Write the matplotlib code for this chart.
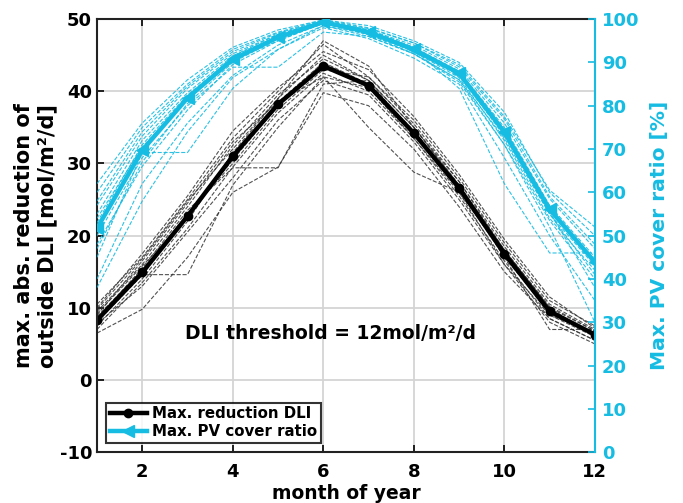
import numpy as np
import matplotlib
matplotlib.use("Agg")
import matplotlib.pyplot as plt

# month axis
months = np.arange(1, 13)

# mean curves
dli_mean = [8.3, 14.9, 22.7, 31.0, 38.2, 43.5, 40.8, 34.2, 26.6, 17.5, 9.5, 6.3]
pv_mean = [51.7, 69.7, 81.8, 90.7, 95.8, 99.3, 97.0, 93.0, 87.5, 73.9, 56.1, 43.9]

# individual years - max. reduction DLI [mol/m2/d]
dli_b1 = [9.5, 16.0, 24.0, 32.5, 39.5, 44.5, 41.5, 35.0, 27.5, 18.5, 10.5, 7.0]
dli_b2 = [7.0, 13.5, 21.0, 29.5, 37.0, 42.5, 40.0, 33.5, 25.5, 16.5, 8.5, 5.5]
dli_b3 = [10.5, 17.0, 25.0, 33.5, 40.0, 46.5, 42.0, 36.0, 28.0, 19.0, 11.0, 7.5]
dli_b4 = [6.5, 9.8, 17.0, 26.0, 29.5, 39.8, 38.0, 32.0, 24.0, 15.0, 8.5, 5.5]
dli_b5 = [8.0, 14.6, 14.6, 27.0, 35.0, 42.0, 40.5, 33.5, 26.0, 17.5, 9.0, 6.5]
dli_b6 = [8.5, 15.5, 23.5, 29.4, 29.4, 41.0, 41.5, 35.0, 27.0, 17.0, 7.0, 7.0]
dli_b7 = [9.0, 16.5, 24.5, 33.0, 38.5, 44.0, 41.0, 34.5, 27.0, 18.0, 10.0, 6.0]
dli_b8 = [7.5, 14.0, 22.0, 31.5, 39.0, 45.0, 41.5, 34.0, 26.5, 17.0, 9.5, 6.5]
dli_b9 = [8.8, 15.2, 23.0, 30.0, 37.5, 43.0, 42.0, 35.5, 27.5, 18.0, 10.0, 6.8]
dli_b10 = [9.2, 15.8, 22.5, 31.0, 38.5, 42.0, 35.0, 28.8, 26.0, 16.0, 9.0, 6.0]
dli_b11 = [7.8, 13.0, 20.5, 28.0, 36.0, 41.5, 39.5, 33.0, 25.0, 16.0, 8.0, 5.0]
dli_b12 = [10.0, 17.5, 25.5, 34.5, 40.5, 45.5, 43.0, 36.5, 28.5, 19.5, 11.5, 7.2]
dli_b13 = [8.2, 14.5, 22.8, 30.5, 38.0, 44.0, 40.5, 34.0, 26.8, 17.8, 9.8, 6.2]
dli_b14 = [9.8, 16.8, 24.8, 32.0, 39.0, 47.0, 43.5, 35.0, 27.0, 18.0, 10.2, 6.8]

# individual years - max. PV cover ratio [%]
pv_c1 = [55, 72, 83, 91.5, 96.5, 99.5, 97.5, 93.5, 88.0, 75.0, 57.0, 45.0]
pv_c2 = [48, 66, 79, 89.5, 95.0, 99.0, 96.5, 92.5, 86.5, 72.0, 54.0, 42.0]
pv_c3 = [60, 75, 85, 93.0, 97.0, 99.8, 98.0, 94.5, 89.0, 77.0, 59.0, 48.0]
pv_c4 = [45, 69.2, 69.2, 84.0, 93.0, 98.5, 96.0, 92.0, 86.0, 72.5, 55.0, 41.0]
pv_c5 = [50, 68, 80, 88.9, 88.9, 97.0, 96.0, 92.0, 85.5, 71.0, 53.5, 40.0]
pv_c6 = [53, 71, 82.5, 91.0, 96.0, 99.5, 97.0, 93.0, 84.0, 62.0, 46.0, 46.0]
pv_c7 = [40, 62, 76, 87.0, 94.0, 98.5, 96.5, 92.0, 86.0, 71.0, 52.0, 30.0]
pv_c8 = [57, 73, 84, 92.0, 96.5, 99.5, 97.5, 94.0, 88.5, 76.0, 58.5, 47.0]
pv_c9 = [62, 76, 86, 93.5, 97.5, 99.8, 98.5, 95.0, 90.0, 78.5, 60.0, 50.0]
pv_c10 = [47, 67, 80.5, 90.0, 95.5, 99.0, 96.5, 93.5, 87.0, 73.0, 55.5, 38.0]
pv_c11 = [52, 70, 82, 90.5, 95.0, 99.2, 97.2, 93.2, 87.8, 74.5, 56.5, 44.0]
pv_c12 = [38, 58, 74, 86.5, 93.0, 98.0, 95.5, 91.0, 85.0, 68.0, 50.0, 35.0]
pv_c13 = [58, 74, 84.5, 92.5, 96.8, 99.6, 97.8, 94.5, 89.5, 77.5, 60.5, 52.0]
pv_c14 = [54, 70.5, 81.5, 91.5, 96.0, 99.3, 97.0, 92.5, 87.0, 73.5, 55.0, 43.0]

dli_years = [dli_b1, dli_b2, dli_b3, dli_b4, dli_b5, dli_b6, dli_b7,
             dli_b8, dli_b9, dli_b10, dli_b11, dli_b12, dli_b13, dli_b14]
pv_years = [pv_c1, pv_c2, pv_c3, pv_c4, pv_c5, pv_c6, pv_c7,
            pv_c8, pv_c9, pv_c10, pv_c11, pv_c12, pv_c13, pv_c14]

CYAN = '#16BCE2'

plt.rcParams['font.family'] = 'DejaVu Sans'
plt.rcParams['font.weight'] = 'bold'
plt.rcParams['axes.unicode_minus'] = False

fig = plt.figure(figsize=(6.83, 5.03), dpi=100)
ax = fig.add_axes([0.142, 0.101, 0.729, 0.861])
ax2 = ax.twinx()

# black: DLI reduction (left axis)
for yr in dli_years:
    ax.plot(months, yr, '--', color='#333333', lw=0.8, alpha=0.85)
l1, = ax.plot(months, dli_mean, '-o', color='black', lw=3.2, ms=6, label='Max. reduction DLI')

# cyan: PV cover ratio (right axis)
for yr in pv_years:
    ax2.plot(months, yr, '--', color=CYAN, lw=0.8, alpha=0.9)
l2, = ax2.plot(months, pv_mean, '-<', color=CYAN, lw=3.2, ms=9, label='Max. PV cover ratio')

ax.set_xlim(1, 12)
ax.set_ylim(-10, 50)
ax2.set_ylim(0, 100)
ax.set_xticks([2, 4, 6, 8, 10, 12])
ax.set_yticks(np.arange(-10, 51, 10))
ax2.set_yticks(np.arange(0, 101, 10))

ax.grid(True, color='#d4d4d4', lw=1.3)
ax.set_axisbelow(True)

ax.tick_params(axis='both', direction='in', top=True, right=False, length=5, width=1.2, labelsize=13)
ax.tick_params(axis='x', pad=8)
ax2.tick_params(direction='in', length=5, width=1.2, colors=CYAN, labelsize=13, pad=5)
for lab in ax.get_xticklabels() + ax.get_yticklabels() + ax2.get_yticklabels():
    lab.set_fontweight('bold')

ax.spines['right'].set_visible(False)
ax2.spines['left'].set_visible(False)
ax2.spines['top'].set_visible(False)
ax2.spines['bottom'].set_visible(False)
ax2.spines['right'].set_color(CYAN)
ax2.spines['right'].set_linewidth(1.5)
for s in ['left', 'top', 'bottom']:
    ax.spines[s].set_linewidth(1.5)
    ax.spines[s].set_color('#222222')

ax.set_xlabel('month of year', fontsize=13.5, fontweight='bold', labelpad=2)
ax.set_ylabel('max. abs. reduction of\noutside DLI [mol/m²/d]', fontsize=15,
              fontweight='bold', linespacing=1.2, labelpad=2)
ax2.set_ylabel('Max. PV cover ratio [%]', fontsize=14.6, fontweight='bold', color=CYAN,
               labelpad=8)

ax.text(6.15, 6.5, 'DLI threshold = 12mol/m²/d', fontsize=13.5, fontweight='bold',
        ha='center', va='center')

leg = ax2.legend(handles=[l1, l2], loc='lower left',
                 prop={'weight': 'bold', 'size': 10.8}, frameon=True, fancybox=False,
                 edgecolor='black', borderpad=0.25, handlelength=2.5,
                 handletextpad=0.3, labelspacing=0.2, borderaxespad=0.6)
leg.get_frame().set_linewidth(1.5)

fig.savefig('out.png', dpi=100)
